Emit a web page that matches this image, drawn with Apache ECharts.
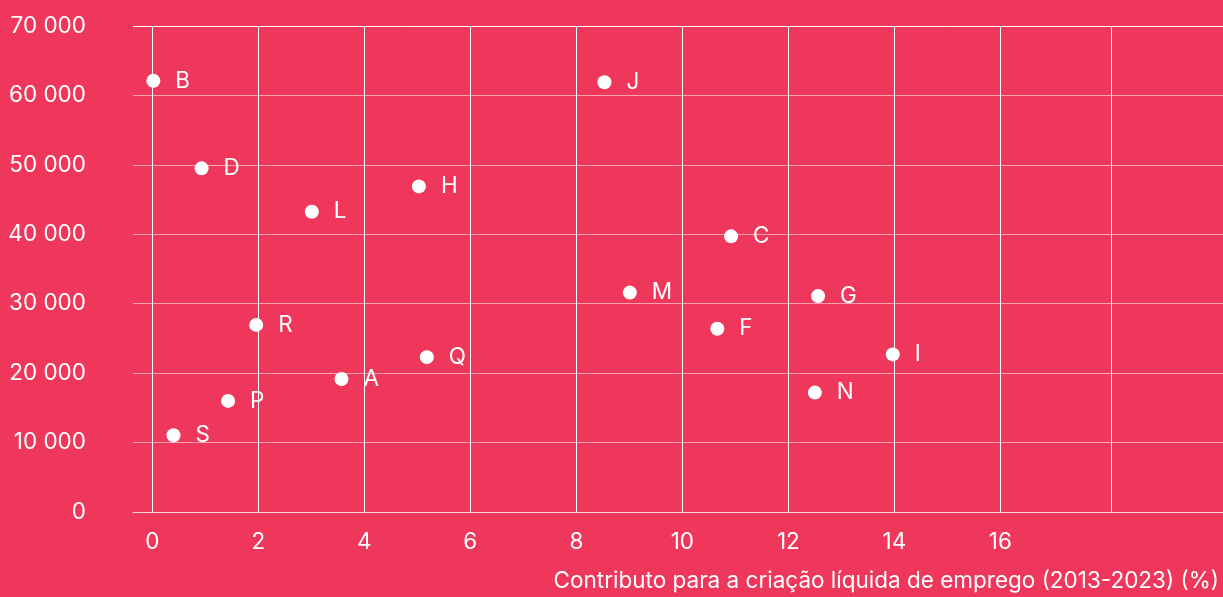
<!DOCTYPE html>
<html>
<head>
<meta charset="UTF-8">
<title></title>
<script src="https://cdn.jsdelivr.net/npm/echarts@6/dist/echarts.min.js"></script>
<style>
  html, body { margin: 0; padding: 0; background: #EF375B; }
  #chart { width: 1223px; height: 597px; }
</style>
</head>
<body>
<div id="chart"></div>
<script>
// regiões (nome do ponto), contributo para o emprego (%) e valor no eixo y
var names  = ['B', 'D', 'L', 'H', 'J', 'C', 'M', 'G', 'F', 'R', 'Q', 'I', 'A', 'N', 'P', 'S'];
var xVals  = [0.02, 0.93, 3.01, 5.03, 8.53, 10.92, 9.01, 12.56, 10.66, 1.96, 5.18, 13.97, 3.57, 12.5, 1.43, 0.40];
var yVals  = [62100, 49500, 43250, 46900, 61900, 39700, 31600, 31100, 26400, 26950, 22300, 22700, 19150, 17200, 16000, 11050];
var xTicks = [0, 2, 4, 6, 8, 10, 12, 14, 16, 18.1];
var xLabels = [0, 2, 4, 6, 8, 10, 12, 14, 16];
var xName = 'Contributo para a criação líquida de emprego (2013-2023) (%)';

var font = 'Inter';
var fs = 22.5;
var pink = 'rgba(255,255,255,0.55)';

var myChart = echarts.init(document.getElementById('chart'));

myChart.setOption({
    backgroundColor: '#EF375B',
    animation: false,
    textStyle: { fontFamily: font },
    grid: { left: 133, right: 0, top: 26, height: 486, containLabel: false },
    xAxis: {
        type: 'value',
        min: -0.364,
        max: 20.2,
        axisLine: { show: true, lineStyle: { color: pink, width: 1 } },
        axisTick: { show: false, customValues: xTicks },
        axisLabel: {
            customValues: xLabels,
            color: '#fff',
            fontSize: fs,
            fontFamily: font,
            margin: 19
        },
        splitLine: { show: true, lineStyle: { color: '#fff', width: 1 } }
    },
    yAxis: {
        type: 'value',
        min: 0,
        max: 70000,
        interval: 10000,
        axisLine: { show: false },
        axisTick: { show: false },
        axisLabel: {
            color: '#fff',
            fontSize: fs,
            fontFamily: font,
            margin: 47,
            formatter: function (v) {
                return String(v).replace(/\B(?=(\d{3})+(?!\d))/g, ' ');
            }
        },
        splitLine: {
            show: true,
            lineStyle: {
                // a última linha (70 000) é branca
                color: [pink, pink, pink, pink, pink, pink, pink, '#fff'],
                width: 1
            }
        }
    },
    graphic: [{
        type: 'text',
        right: 4,
        top: 570,
        style: { text: xName, fill: '#fff', font: fs + 'px Inter' }
    }],
    series: [{
        type: 'scatter',
        symbol: 'circle',
        symbolSize: 14,
        itemStyle: { color: '#fff', opacity: 1 },
        label: {
            show: true,
            position: 'right',
            distance: 15,
            formatter: '{b}',
            color: '#fff',
            fontSize: fs,
            fontFamily: font
        },
        data: names.map(function (n, i) {
            return { name: n, value: [xVals[i], yVals[i]] };
        })
    }]
});
</script>
</body>
</html>
